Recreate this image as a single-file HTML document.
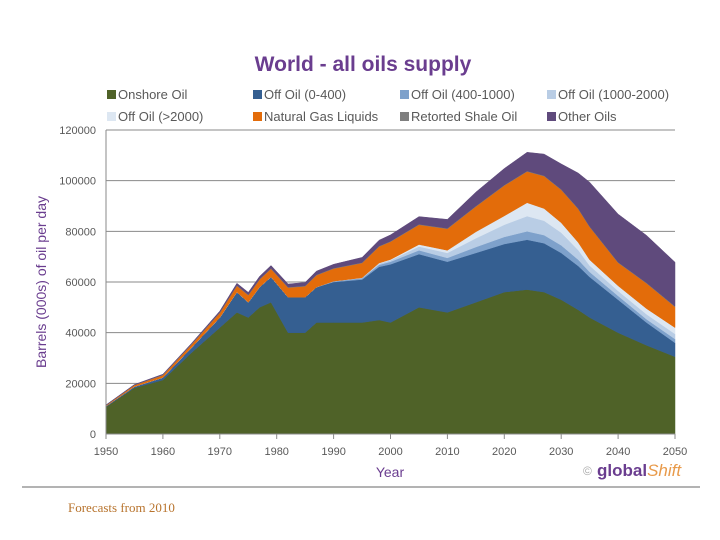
<!DOCTYPE html>
<html><head><meta charset="utf-8">
<style>
body{margin:0;background:#fff;}
#wrap{position:relative;width:720px;height:540px;overflow:hidden;font-family:"Liberation Sans",sans-serif;}
</style></head>
<body>
<div id="wrap">
<svg id="chart" width="720" height="540"></svg>
</div>
<script>
const years = [1950,1955,1960,1965,1970,1973,1975,1977,1979,1982,1985,1987,1990,1995,1998,2000,2005,2010,2015,2020,2024,2027,2030,2033,2035,2040,2045,2050];
const onshore = [10700,18200,21300,32000,42000,48000,46000,50000,52000,40000,40000,44000,44000,44000,45000,44000,50000,48000,52000,56000,57000,56000,53000,49000,46000,40000,35000,30500];
const off0400 = [300,500,1000,2000,4000,8000,6000,8000,10000,14000,14000,14000,16000,17000,21000,23000,21000,20000,19500,19000,19700,19300,18500,17300,16000,13000,9000,5500];
const off4001000 = [0,0,0,0,0,0,0,0,0,0,0,0,300,500,800,1000,1500,1500,2300,2800,3300,3200,3000,2500,2000,1500,1300,1500];
const off10002000 = [0,0,0,0,0,0,0,0,0,0,0,0,0,200,500,600,1500,2000,3500,4800,6000,5700,5000,3800,2500,2000,2000,2000];
const off2000 = [0,0,0,0,0,0,0,0,0,0,0,0,0,0,200,300,800,1000,2500,3500,5300,4800,3900,3000,2300,2000,2200,2500];
const ngl = [300,600,900,1200,1800,2500,2800,3000,3200,3800,4300,4700,5000,5800,6500,7000,7800,8500,10000,12000,12300,12800,13000,13200,13000,9100,10000,8200];
const shale = [100,100,200,200,200,200,200,200,200,200,200,200,200,200,200,200,200,200,200,200,200,200,200,200,200,200,200,200];
const other = [100,150,200,300,500,800,900,1000,1100,1200,1300,1400,1500,2000,2300,2500,3000,3500,5500,6500,7400,8500,10000,14000,17400,19000,18700,17400];
const yTicks = [0,20000,40000,60000,80000,100000,120000];
const xTicks = [1950,1960,1970,1980,1990,2000,2010,2020,2030,2040,2050];

const NS="http://www.w3.org/2000/svg";
const svg=document.getElementById('chart');
const X0=106,X1=675,Y0=434,Y1=130;
function xs(yr){return X0+(yr-1950)/(100)*(X1-X0);}
function ys(v){return Y0-v/120000*(Y0-Y1);}
function mk(tag,attrs,parent){const e=document.createElementNS(NS,tag);for(const k in attrs)e.setAttribute(k,attrs[k]);(parent||svg).appendChild(e);return e;}
const TXT="#595959";

let t=mk('text',{x:363,y:71,'text-anchor':'middle','font-size':21,'font-weight':'bold',fill:'#6a3d8f'});
t.textContent='World - all oils supply';



yTicks.forEach(v=>{
  if(v===0)return;
  const g=mk('line',{x1:X0,x2:X1,y1:ys(v),y2:ys(v),stroke:'#8a8a8a','stroke-width':1});
  
  
});

const series=[
 ['onshore-oil',onshore,'#4f6228'],
 ['off-oil-0-400',off0400,'#355f91'],
 ['off-oil-400-1000',off4001000,'#7ea1cb'],
 ['off-oil-1000-2000',off10002000,'#b9cde5'],
 ['off-oil-over-2000',off2000,'#dde7f2'],
 ['natural-gas-liquids',ngl,'#e36c0a'],
 ['retorted-shale-oil',shale,'#7f7f7f'],
 ['other-oils',other,'#5f4a7c']];
let base=years.map(()=>0);
series.forEach(([name,vals,col])=>{
  const top=base.map((b,i)=>b+vals[i]);
  let d='M'+years.map((y,i)=>xs(y).toFixed(1)+','+ys(top[i]).toFixed(1)).join(' L');
  for(let i=years.length-1;i>=0;i--)d+=' L'+xs(years[i]).toFixed(1)+','+ys(base[i]).toFixed(1);
  d+='Z';
  const p=mk('path',{d:d,fill:col,stroke:col,'stroke-width':0.5,'stroke-linejoin':'round'});
  
  
  base=top;
});

let ax=mk('line',{x1:X0,x2:X1,y1:Y0,y2:Y0,stroke:'#8a8a8a'});


let ay=mk('line',{x1:X0,x2:X0,y1:Y1,y2:Y0,stroke:'#8a8a8a'});



yTicks.forEach(v=>{
  const l=mk('text',{x:96,y:ys(v)+4,'text-anchor':'end','font-size':11,fill:TXT});
  l.textContent=v;
  
  
});
xTicks.forEach(yr=>{
  const tk=mk('line',{x1:xs(yr),x2:xs(yr),y1:Y0,y2:Y0+5,stroke:'#8a8a8a'});
  
  
  const l=mk('text',{x:xs(yr),y:455,'text-anchor':'middle','font-size':11,fill:TXT});
  l.textContent=yr;
  
  
});

let yt=mk('text',{x:0,y:0,'text-anchor':'middle','font-size':14,fill:'#6a3d8f',transform:'translate(46,282) rotate(-90)'});
yt.textContent='Barrels (000s) of oil per day';


let xt=mk('text',{x:390,y:477,'text-anchor':'middle','font-size':14,fill:'#6a3d8f'});
xt.textContent='Year';



const legend=[
 ['Onshore Oil','#4f6228',107,95],['Off Oil (0-400)','#355f91',253,95],['Off Oil (400-1000)','#7ea1cb',400,95],['Off Oil (1000-2000)','#b9cde5',547,95],
 ['Off Oil (>2000)','#dde7f2',107,117],['Natural Gas Liquids','#e36c0a',253,117],['Retorted Shale Oil','#7f7f7f',400,117],['Other Oils','#5f4a7c',547,117]];
legend.forEach(([lab,col,x,y])=>{
  const g=mk('g',{});
  
  
  mk('rect',{x:x,y:y-5,width:9,height:9,fill:col},g);
  const tx=mk('text',{x:x+11,y:y+4,'font-size':13,fill:TXT},g);
  tx.textContent=lab;
});

let lg=mk('text',{x:583,y:475,'font-size':12,fill:'#aaa'});
lg.textContent='©';


let lg2=mk('text',{x:597,y:476,'font-size':17,'font-weight':'bold',fill:'#6a3d8f'});
lg2.innerHTML='global<tspan fill="#e89a4a" font-style="italic" font-weight="normal">Shift</tspan>';



let sep=mk('line',{x1:22,x2:700,y1:487,y2:487,stroke:'#9a9a9a','stroke-width':1.5});



let fc=mk('text',{x:68,y:512,'font-size':13,'font-family':'Liberation Serif, serif',fill:'#b8742e'});
fc.textContent='Forecasts from 2010';


</script>
</body></html>
